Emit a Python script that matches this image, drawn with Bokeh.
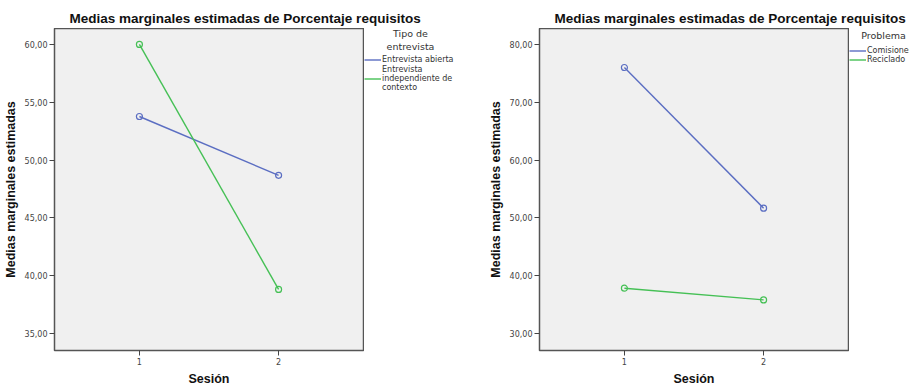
from bokeh.plotting import figure
from bokeh.layouts import row, column
from bokeh.models import (Range1d, FixedTicker, CustomJSTickFormatter, Legend,
                          LegendItem, Label)
from bokeh.embed import file_html
from bokeh.resources import INLINE

TITLE = "Medias marginales estimadas de Porcentaje requisitos"
Y_LABEL = "Medias marginales estimadas"
X_LABEL = "Sesión"

sessions = [1, 2]
session_ticks = [1, 2]

left_legend_title = ["Tipo de", "entrevista"]
left_series_names = ["Entrevista abierta", "Entrevista\nindependiente de\ncontexto"]
left_abierta = [53.77, 48.68]
left_independiente = [60.0, 38.81]
left_ticks = [35, 40, 45, 50, 55, 60]

right_legend_title = ["Problema"]
right_series_names = ["Comisiones", "Reciclado"]
right_comisiones = [76.02, 51.68]
right_reciclado = [37.84, 35.81]
right_ticks = [30, 40, 50, 60, 70, 80]

BLUE = "#5b6ec2"
GREEN = "#45c055"
COLORS = [BLUE, GREEN]
FONT = "Liberation Sans"
SMALL = "DejaVu Sans"
FW, FH = 309, 322
PLOT_H = 357
TOP_H = 28


def blank(width, height):
    p = figure(output_backend="svg", toolbar_location=None, width=width, height=height,
               x_range=Range1d(0, 1), y_range=Range1d(0, 1),
               x_axis_type=None, y_axis_type=None,
               min_border_left=0, min_border_right=0, min_border_top=0, min_border_bottom=0)
    p.outline_line_color = None
    p.background_fill_color = "white"
    p.border_fill_color = "white"
    p.grid.visible = False
    return p


def title_fig(width, offset):
    p = blank(width, TOP_H)
    p.add_layout(Label(x=offset, y=10, x_units="screen", y_units="screen", text=TITLE,
                       text_baseline="middle", text_align="left", text_font=FONT,
                       text_font_size="13.5px", text_font_style="bold", text_color="#111111"))
    return p


def plot_fig(series, ticks, yr, min_left):
    p = figure(output_backend="svg", toolbar_location=None,
               frame_width=FW, frame_height=FH,
               min_border_left=min_left, min_border_right=1,
               min_border_top=0, min_border_bottom=35,
               x_range=Range1d(0.39, 2.61), y_range=Range1d(*yr))
    p.background_fill_color = "#f0f0f0"
    p.border_fill_color = "white"
    p.outline_line_color = "#555555"
    p.outline_line_width = 1.5
    p.grid.visible = False

    for ax in (p.xaxis[0], p.yaxis[0]):
        ax.axis_line_color = None
        ax.major_tick_line_color = "#444444"
        ax.major_tick_out = 5
        ax.major_tick_in = 0
        ax.minor_tick_line_color = None
        ax.major_label_text_font = SMALL
        ax.major_label_text_font_size = "8px"
        ax.major_label_text_color = "#444444"
        ax.axis_label_text_font = FONT
        ax.axis_label_text_font_size = "12.5px"
        ax.axis_label_text_font_style = "bold"
        ax.axis_label_text_color = "#111111"
        ax.major_label_standoff = 2
        ax.axis_label_standoff = 4
    p.xaxis.ticker = FixedTicker(ticks=session_ticks)
    p.yaxis.ticker = FixedTicker(ticks=ticks)
    p.yaxis.formatter = CustomJSTickFormatter(code="return tick.toFixed(2).replace('.', ',')")
    p.xaxis.axis_label = X_LABEL
    p.yaxis.axis_label = Y_LABEL

    for vals, c in zip(series, COLORS):
        p.line(sessions, vals, line_color=c, line_width=1.4)
        p.scatter(sessions, vals, marker="circle", size=6, fill_color=None,
                  line_color=c, line_width=1.2)
    return p


def legend_kw():
    return dict(orientation="vertical", padding=0, spacing=0, margin=0,
                glyph_width=17, glyph_height=9, label_height=9, label_standoff=1,
                label_text_font=SMALL, label_text_font_size="8px",
                label_text_color="#333333", label_text_line_height=1.1,
                background_fill_alpha=0, border_line_color=None,
                inactive_fill_alpha=0)


def legend_fig(width, series, names, title_lines, title_x, title_y, groups):
    p = blank(width, PLOT_H)
    items = []
    for vals, name, c in zip(series, names, COLORS):
        r = p.line(sessions, vals, line_color=c, line_width=1.4, visible=False)
        items.append(LegendItem(label=name, renderers=[r]))
    for idx, ybottom in groups:
        p.add_layout(Legend(items=[items[i] for i in idx], location=(0, ybottom), **legend_kw()))
    for i, t in enumerate(title_lines):
        p.add_layout(Label(x=title_x, y=title_y - 13 * i, x_units="screen", y_units="screen",
                           text=t, text_align="center", text_baseline="middle",
                           text_font=SMALL, text_font_size="9.5px", text_color="#333333"))
    return p


left_plot = plot_fig([left_abierta, left_independiente], left_ticks, (33.53, 61.38), 53)
right_plot = plot_fig([right_comisiones, right_reciclado], right_ticks, (27.06, 82.77), 83)

left_leg = legend_fig(92, [left_abierta, left_independiente], left_series_names,
                      left_legend_title, 46, 314, [([0], 283), ([1], 255)])
right_leg = legend_fig(60, [right_comisiones, right_reciclado], right_series_names,
                       right_legend_title, 34, 312, [([0, 1], 283)])

top = row(title_fig(452, 69), title_fig(456, 102))
bottom = row(left_plot, left_leg, right_plot, right_leg)
layout = column(top, bottom)
open("out.html", "w").write(file_html(layout, INLINE))
